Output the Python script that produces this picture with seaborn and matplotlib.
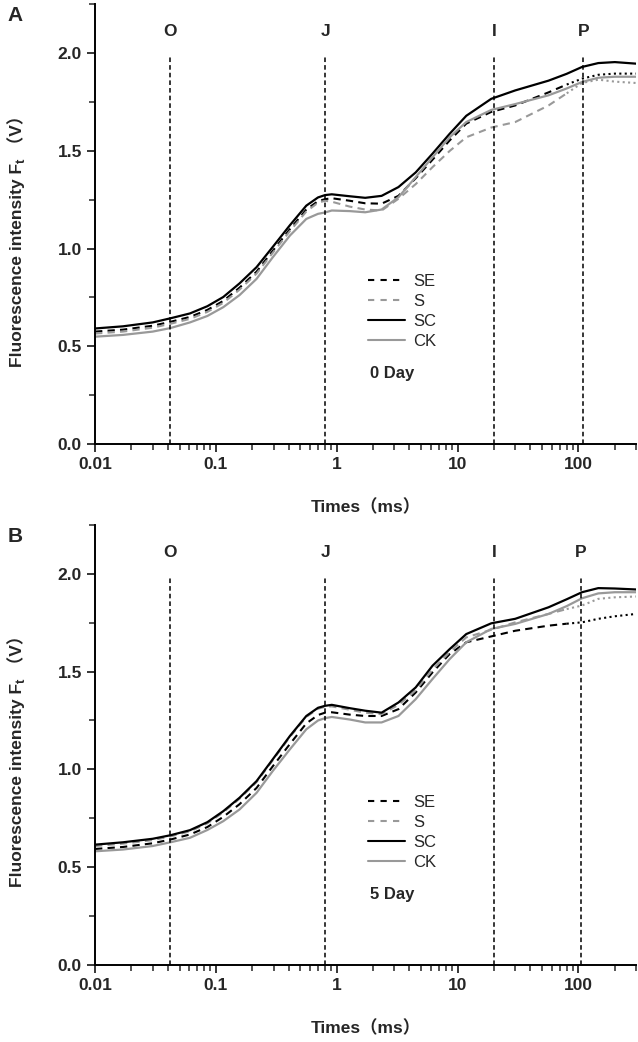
import numpy as np
import pandas as pd
import matplotlib
matplotlib.use('Agg')
import matplotlib.pyplot as plt
import seaborn as sns
from matplotlib.lines import Line2D
from matplotlib.ticker import MultipleLocator, FixedLocator, FixedFormatter

sns.set_style('ticks')
plt.rcParams['font.family'] = ['Liberation Sans', 'Noto Sans CJK SC', 'DejaVu Sans']

# time points (ms)
times = [0.01, 0.017, 0.03, 0.042, 0.061, 0.085, 0.115, 0.157, 0.217, 0.295, 0.41,
         0.56, 0.7, 0.8, 0.91, 1.28, 1.72, 2.35, 3.24, 4.5, 6.2, 8.6, 11.8, 19, 30,
         56.6, 80, 107, 146, 200, 300]

# panel A, 0 day
a_se = [0.575, 0.585, 0.605, 0.625, 0.65, 0.686, 0.732, 0.80, 0.882, 0.988, 1.10,
        1.20, 1.243, 1.253, 1.258, 1.245, 1.232, 1.23, 1.27, 1.36, 1.455, 1.554, 1.64,
        1.70, 1.733, 1.80, 1.84, 1.87, 1.89, 1.896, 1.896]
a_s = [0.565, 0.575, 0.595, 0.615, 0.64, 0.676, 0.722, 0.79, 0.872, 0.978, 1.09,
       1.19, 1.235, 1.245, 1.24, 1.215, 1.20, 1.195, 1.255, 1.33, 1.417, 1.50, 1.57,
       1.62, 1.648, 1.733, 1.795, 1.848, 1.865, 1.855, 1.848]
a_sc = [0.591, 0.602, 0.622, 0.643, 0.668, 0.705, 0.752, 0.822, 0.905, 1.008, 1.12,
        1.22, 1.262, 1.274, 1.278, 1.268, 1.26, 1.27, 1.315, 1.39, 1.486, 1.588, 1.68,
        1.767, 1.81, 1.86, 1.895, 1.93, 1.95, 1.955, 1.947]
a_ck = [0.549, 0.558, 0.575, 0.593, 0.622, 0.655, 0.70, 0.762, 0.845, 0.955, 1.067,
        1.152, 1.178, 1.185, 1.195, 1.192, 1.186, 1.20, 1.263, 1.366, 1.468, 1.57, 1.648,
        1.71, 1.74, 1.785, 1.82, 1.853, 1.875, 1.88, 1.88]

# panel B, 5 day
b_se = [0.593, 0.603, 0.622, 0.641, 0.667, 0.705, 0.757, 0.822, 0.905, 1.015, 1.13,
        1.235, 1.278, 1.29, 1.292, 1.28, 1.273, 1.273, 1.308, 1.393, 1.496, 1.59, 1.65,
        1.68, 1.709, 1.735, 1.745, 1.752, 1.77, 1.783, 1.795]
b_s = [0.608, 0.62, 0.638, 0.657, 0.683, 0.724, 0.78, 0.85, 0.935, 1.046, 1.166,
       1.268, 1.31, 1.32, 1.322, 1.305, 1.29, 1.282, 1.33, 1.405, 1.51, 1.60, 1.675,
       1.714, 1.752, 1.795, 1.82, 1.838, 1.872, 1.88, 1.884]
b_sc = [0.615, 0.627, 0.645, 0.663, 0.689, 0.73, 0.786, 0.855, 0.94, 1.051, 1.171,
        1.273, 1.315, 1.325, 1.33, 1.313, 1.30, 1.29, 1.342, 1.419, 1.53, 1.615, 1.692,
        1.747, 1.77, 1.829, 1.87, 1.906, 1.927, 1.925, 1.92]
b_ck = [0.581, 0.59, 0.608, 0.627, 0.65, 0.69, 0.735, 0.795, 0.88, 0.991, 1.103,
        1.205, 1.25, 1.262, 1.268, 1.255, 1.24, 1.24, 1.273, 1.359, 1.462, 1.564, 1.65,
        1.718, 1.744, 1.795, 1.835, 1.875, 1.9, 1.906, 1.906]

treatments = ['SE', 'S', 'SC', 'CK']
phase_names = ['O', 'J', 'I', 'P']
phase_a = [0.042, 0.8, 20, 110]
phase_b = [0.042, 0.8, 20, 105]
x_ticks = [0.01, 0.1, 1, 10, 100]
x_ticklabels = ['0.01', '0.1', '1', '10', '100']

GRAY = '#999999'
colors = {'SE': 'black', 'S': GRAY, 'SC': 'black', 'CK': GRAY}
dashed = {'SE': True, 'S': True, 'SC': False, 'CK': False}

W, H = 638, 1042


def draw_ylabel(fig, top_px):
    # label built from pieces so the full-width brackets can fall back to CJK
    renderer = fig.canvas.get_renderer()
    base_x = 22 / W
    pieces = [('Fluorescence intensity F', 12.5, 0), ('t', 9.5, 3), (' （V）', 12.5, 0)]
    texts = []
    for s, size, _ in pieces:
        t = fig.text(0, 0, s, rotation=90, rotation_mode='anchor', ha='left',
                     va='baseline', fontsize=size, fontweight='bold')
        texts.append(t)
    lengths = [t.get_window_extent(renderer).height for t in texts]
    total = sum(lengths)
    y = H - top_px - total
    for t, (s, size, shift), ln in zip(texts, pieces, lengths):
        t.set_position((base_x + shift / W, y / H))
        y += ln


def draw_panel(ax, series, phases, day_label, letter):
    df = pd.DataFrame({'t': times})
    for name, vals in zip(treatments, series):
        df[name] = vals
    for name in treatments:
        if dashed[name]:
            head = df[df['t'] <= 80]
            tail = df[df['t'] >= 80]
            sns.lineplot(data=head, x='t', y=name, ax=ax, color=colors[name],
                         lw=1.5, linestyle=(0, (3.5, 2.5)), estimator=None)
            sns.lineplot(data=tail, x='t', y=name, ax=ax, color=colors[name],
                         lw=1.5, linestyle=(0, (1, 1.6)), estimator=None)
        else:
            sns.lineplot(data=df, x='t', y=name, ax=ax, color=colors[name],
                         lw=1.6, estimator=None)

    for lab, xv in zip(phase_names, phases):
        ax.vlines(xv, 0, 1.98, colors='black', lw=1.1, linestyles=(0, (3, 2)))
        ax.text(xv, 2.11, lab, ha='center', va='center', fontsize=12.5,
                fontweight='bold')

    ax.set_xscale('log')
    ax.set_xlim(0.01, 300)
    ax.set_ylim(0, 2.25)
    ax.xaxis.set_major_locator(FixedLocator(x_ticks))
    ax.xaxis.set_major_formatter(FixedFormatter(x_ticklabels))
    ax.yaxis.set_major_locator(MultipleLocator(0.5))
    ax.yaxis.set_minor_locator(MultipleLocator(0.25))
    ax.yaxis.set_major_formatter(matplotlib.ticker.FormatStrFormatter('%.1f'))
    ax.tick_params(which='major', direction='out', length=6, width=1.3,
                   labelsize=12.5)
    ax.tick_params(which='minor', direction='out', length=4, width=1.1)
    for lbl in ax.get_xticklabels() + ax.get_yticklabels():
        lbl.set_fontweight('bold')
    for side in ['top', 'right']:
        ax.spines[side].set_visible(False)
    for side in ['left', 'bottom']:
        ax.spines[side].set_linewidth(1.4)
        ax.spines[side].set_color('black')

    ax.set_xlabel('Times（ms）', fontsize=12.5, fontweight='bold', labelpad=19)
    ax.set_ylabel('')

    handles = []
    for name in treatments:
        ls = (0, (3, 3)) if dashed[name] else '-'
        handles.append(Line2D([0], [0], color=colors[name], lw=1.5, linestyle=ls))
    ax.legend(handles, treatments, loc='upper left', bbox_to_anchor=(0.505, 0.387),
              frameon=False, fontsize=12, handlelength=2.2, handletextpad=0.5,
              labelspacing=0.3, borderpad=0, borderaxespad=0)
    ax.text(0.508, 0.161, day_label, transform=ax.transAxes, fontsize=12,
            fontweight='bold', va='center', ha='left')
    ax.text(-0.161, 0.974, letter, transform=ax.transAxes, fontsize=15,
            fontweight='bold', va='center', ha='left')


fig = plt.figure(figsize=(6.38, 10.42), dpi=100)
ax_a = fig.add_axes([0.149, 0.574, 0.848, 0.4217])
ax_b = fig.add_axes([0.149, 0.074, 0.848, 0.4222])

draw_panel(ax_a, [a_se, a_s, a_sc, a_ck], phase_a, '0 Day', 'A')
draw_panel(ax_b, [b_se, b_s, b_sc, b_ck], phase_b, '5 Day', 'B')
draw_ylabel(fig, 107)
draw_ylabel(fig, 627)

fig.savefig('out.png', dpi=100)
plt.close('all')
